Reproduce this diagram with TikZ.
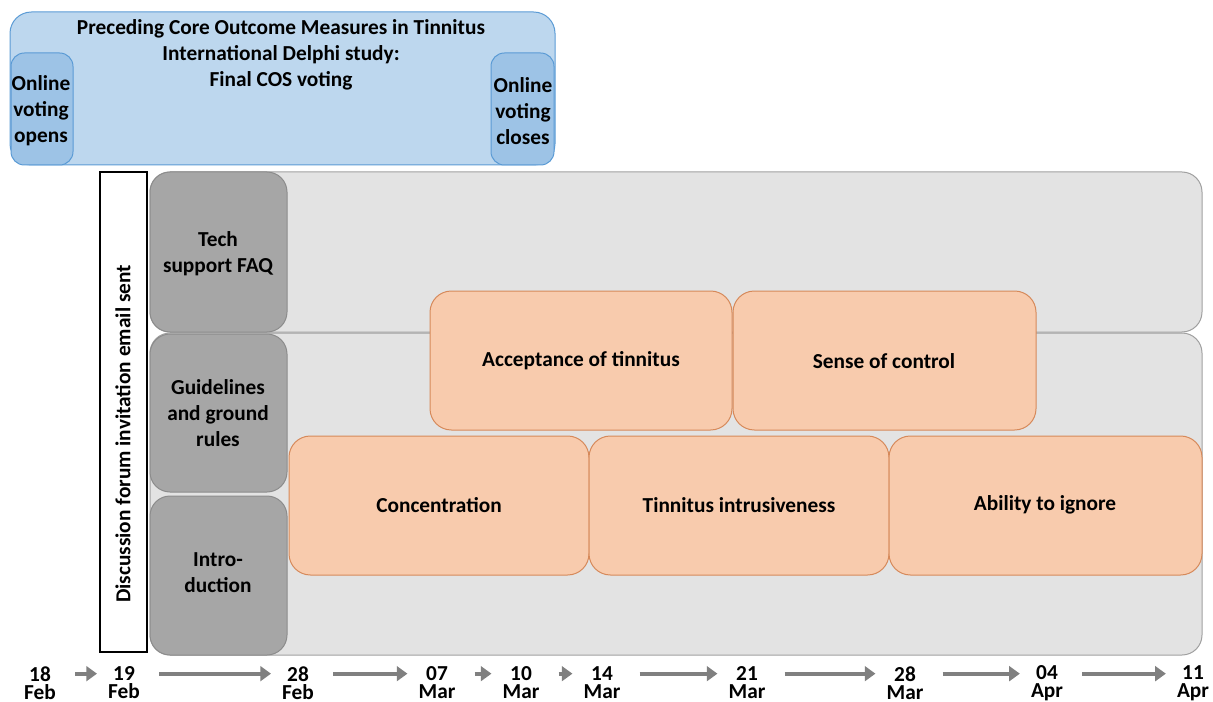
\documentclass[tikz,border=0pt]{standalone}
\usepackage{fontspec}
\setmainfont{Carlito}
\usetikzlibrary{arrows.meta}

\definecolor{bluefill}{RGB}{189,215,238}
\definecolor{bluedark}{RGB}{157,195,230}
\definecolor{blueline}{RGB}{91,155,213}
\definecolor{greyfill}{RGB}{227,227,227}
\definecolor{greyline}{RGB}{160,160,160}
\definecolor{darkfill}{RGB}{166,166,166}
\definecolor{darkline}{RGB}{140,140,140}
\definecolor{orangefill}{RGB}{248,203,173}
\definecolor{orangeline}{RGB}{214,137,90}
\definecolor{arrowgrey}{RGB}{128,128,128}

\tikzset{every picture/.style={line width=0.75pt}}
\tikzset{
  lbl/.style={align=center, inner sep=0pt, font=\bfseries\fontsize{16}{19.5}\selectfont},
  datelbl/.style={align=center, inner sep=0pt, font=\bfseries\fontsize{16}{13.5}\selectfont},
  studybox/.style={draw=blueline, fill=bluefill, rounded corners=16pt},
  votebox/.style={draw=blueline, fill=bluedark, rounded corners=10pt},
  forumbg/.style={draw=greyline, fill=greyfill, rounded corners=15pt},
  introbox/.style={draw=darkline, fill=darkfill, rounded corners=15pt},
  topicbox/.style={draw=orangeline, fill=orangefill, rounded corners=16pt},
  datearrow/.style={draw=arrowgrey, line width=3.2pt, -{Triangle[length=8pt,width=11pt]}, shorten <=14pt, shorten >=8pt},
}

\begin{document}
\begin{tikzpicture}[x=0.75pt,y=0.75pt,yscale=-1,xscale=1]
\useasboundingbox (0,0) rectangle (1213,702);

% preceding Delphi study
\draw [studybox] (10,12) rectangle (555,165);
\node [lbl] (delphi) at (281,55) {Preceding Core Outcome Measures in Tinnitus\\International Delphi study:\\Final COS voting};
\draw [votebox] (11,53) rectangle (73,165);
\node [lbl] (opens) at (41,111) {Online\\voting\\opens};
\draw [votebox] (491,53) rectangle (554,165);
\node [lbl] (closes) at (523,111) {Online\\voting\\closes};

% invitation
\draw [black, line width=0.9pt, fill=white] (100,172) rectangle (147,652);
\node [lbl, rotate=90] (invite) at (123,434) {Discussion forum invitation email sent};

% forum background
\draw [forumbg] (150,172) rectangle (1202,332);
\draw [forumbg] (150,333) rectangle (1202,655);

% first week
\draw [introbox] (150,172) rectangle (287,332);
\node [lbl] (tech) at (218,254) {Tech\\support FAQ};
\draw [introbox] (150,334) rectangle (287,492);
\node [lbl] (rules) at (218,413) {Guidelines\\and ground\\rules};
\draw [introbox] (150,496) rectangle (287,655);
\node [lbl] (intro) at (218,573) {Intro-\\duction};

% topics
\draw [topicbox] (430,291) rectangle (732,430);
\node [lbl] (accept) at (581,361) {Acceptance of tinnitus};
\draw [topicbox] (733,291) rectangle (1036,430);
\node [lbl] (control) at (884,361) {Sense of control};
\draw [topicbox] (289,436) rectangle (589,575);
\node [lbl] (concen) at (439,505) {Concentration};
\draw [topicbox] (589,436) rectangle (889,575);
\node [lbl] (intrus) at (739,505) {Tinnitus intrusiveness};
\draw [topicbox] (889,436) rectangle (1202,575);
\node [lbl] (ignore) at (1045,505) {Ability to ignore};

% timeline
\foreach \n/\x/\dd/\mm in {1/40/18/Feb, 2/124/19/Feb, 3/298/28/Feb, 4/437/07/Mar, 5/521/10/Mar,
                           6/602/14/Mar, 7/747/21/Mar, 8/905/28/Mar, 9/1047/04/Apr, 10/1193/11/Apr}
  \node [datelbl] (d\n) at (\x,683) {\dd\\\mm};

\foreach \a/\b in {1/2, 2/3, 3/4, 4/5, 5/6, 6/7, 7/8, 8/9, 9/10}
  \draw [datearrow] ([yshift=-7pt]d\a.east) -- ([yshift=-7pt]d\b.west);

\end{tikzpicture}
\end{document}
